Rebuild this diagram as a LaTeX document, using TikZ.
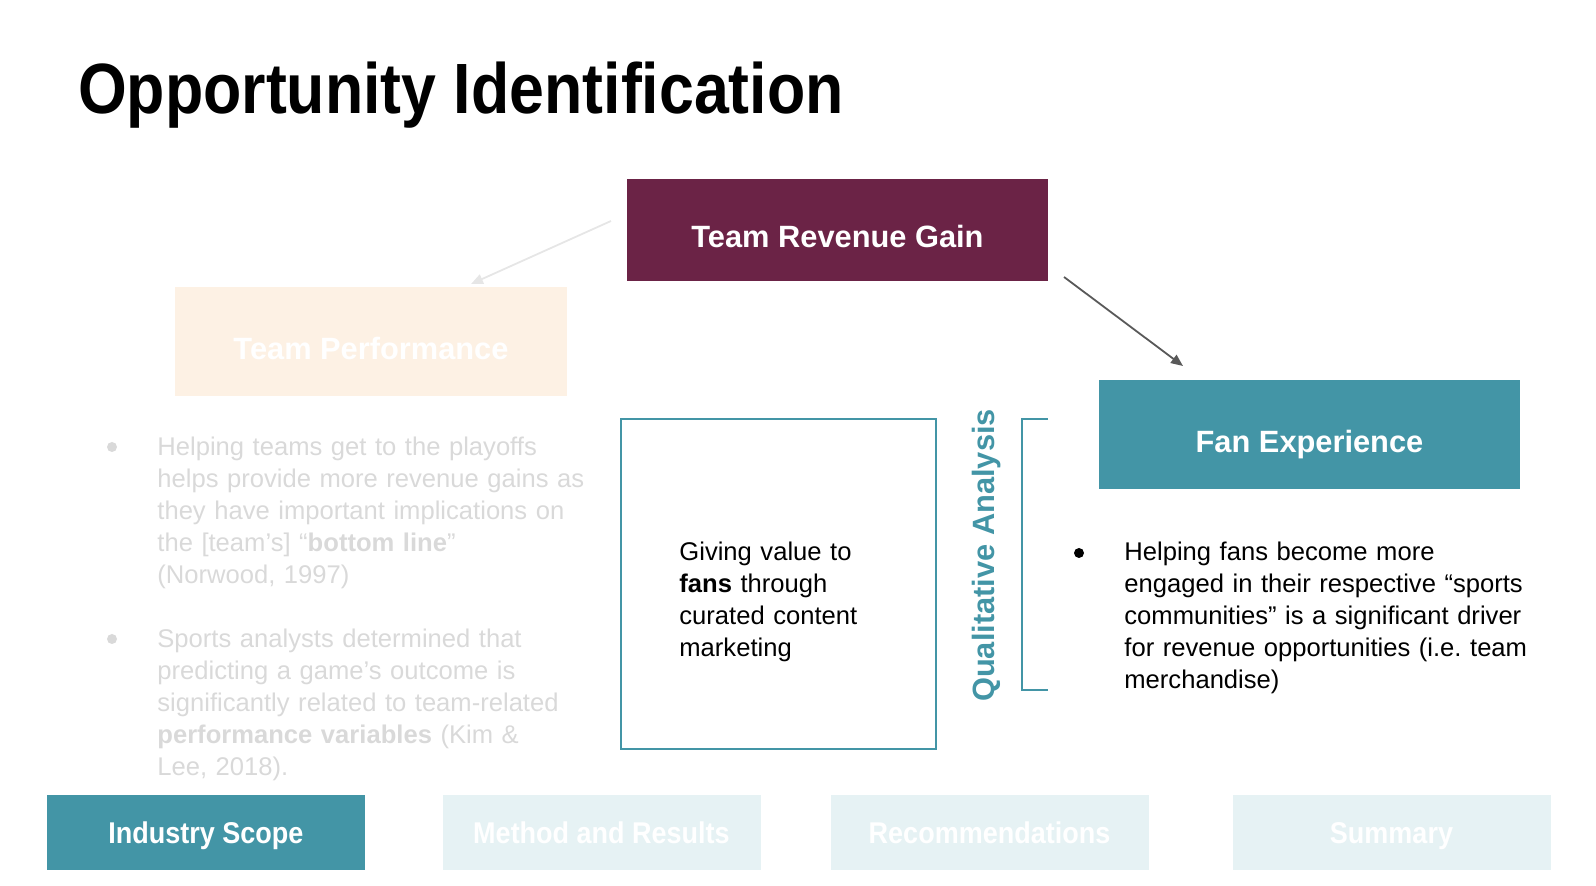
\documentclass[tikz,border=0pt]{standalone}
\usepackage{fontspec}
\usepackage{graphicx}
\setmainfont{Liberation Sans}
\usetikzlibrary{arrows.meta}
\definecolor{plum}{HTML}{6B2346}
\definecolor{fanteal}{HTML}{4395A6}
\definecolor{peach}{HTML}{FDF1E4}
\definecolor{tabfade}{HTML}{E6F2F4}
\definecolor{fadetext}{HTML}{D9D9D9}
\definecolor{fadeline}{HTML}{E6E6E6}
\definecolor{arrowgray}{HTML}{595959}
\frenchspacing
\begin{document}
\begin{tikzpicture}[x=0.5pt,y=-0.5pt,
	headbox/.style={minimum width=210.5pt,inner sep=0pt,text height=18pt,text depth=0pt,text=white,font=\bfseries\fontsize{15.4}{18}\selectfont},
	tabbox/.style={minimum width=159pt,minimum height=37.5pt,inner sep=0pt,text height=10.8pt,text depth=0pt,text=white,font=\bfseries\fontsize{15}{18}\selectfont},
	body/.style={anchor=base west,align=left,text width=230pt,inner sep=0pt,font=\fontsize{12.8}{16}\selectfont},
	bulletdot/.style={circle,inner sep=0pt,minimum size=5pt}]
	\useasboundingbox (0,0) rectangle (1596,886);
	\node [anchor=base west,font=\bfseries\fontsize{35.6}{40}\selectfont] (title) at (71,114) {\scalebox{0.88}[1]{Opportunity Identification}};
	\node [headbox,fill=plum,minimum height=51pt] (revenue) at (837.5,230) {Team Revenue Gain};
	\node [headbox,fill=peach,minimum width=196pt,minimum height=54.5pt] (performance) at (371,341.5) {Team Performance};
	\node [headbox,fill=fanteal,minimum height=54.5pt] (fans) at (1309.5,434.5) {Fan Experience};
	\coordinate (revL) at (611,221);
	\coordinate (perfT) at (471,284);
	\coordinate (revR) at (1064,277);
	\coordinate (fansT) at (1183,366);
	\draw [fadeline,line width=0.9pt,-{Triangle[length=6pt,width=5pt]}] (revL) -- (perfT);
	\draw [arrowgray,line width=0.9pt,-{Triangle[length=6pt,width=5pt]}] (revR) -- (fansT);
	\node [draw=fanteal,line width=0.8pt,minimum width=157.5pt,minimum height=165pt] (value) at (778.5,584) {};
	\node [body,text width=130pt] (valuetext) at (679,561) {Giving value to\\\textbf{fans} through\\curated content\\marketing};
	\node [rotate=90,text=fanteal,font=\bfseries\fontsize{15.4}{18}\selectfont] (qual) at (987,555.5) {Qualitative Analysis};
	\draw [fanteal,line width=0.8pt] (1048,419) -- (1022,419) -- (1022,690) -- (1048,690);
	\node [bulletdot,fill=black] (fandot) at (1079,553) {};
	\node [body,text width=220pt] (fantext) at (1124,561) {Helping fans become more\\engaged in their respective “sports\\communities” is a significant driver\\for revenue opportunities (i.e. team\\merchandise)};
	\node [bulletdot,fill=fadetext] (dot1) at (112,447) {};
	\node [body,text=fadetext] (perf1) at (157,456) {Helping teams get to the playoffs\\helps provide more revenue gains as\\they have important implications on\\the [team’s] “\textbf{bottom line}”\\(Norwood, 1997)};
	\node [bulletdot,fill=fadetext] (dot2) at (112,639) {};
	\node [body,text=fadetext] (perf2) at (157,648) {Sports analysts determined that\\predicting a game’s outcome is\\significantly related to team-related\\\textbf{performance variables} (Kim \&\\Lee, 2018).};
	\node [tabbox,fill=fanteal] (scope) at (206,832.5) {\scalebox{0.9}[1]{Industry Scope}};
	\node [tabbox,fill=tabfade] (method) at (601.5,832.5) {\scalebox{0.9}[1]{Method and Results}};
	\node [tabbox,fill=tabfade] (recs) at (989.5,832.5) {\scalebox{0.9}[1]{Recommendations}};
	\node [tabbox,fill=tabfade] (summary) at (1391.5,832.5) {\scalebox{0.9}[1]{Summary}};
\end{tikzpicture}
\end{document}
